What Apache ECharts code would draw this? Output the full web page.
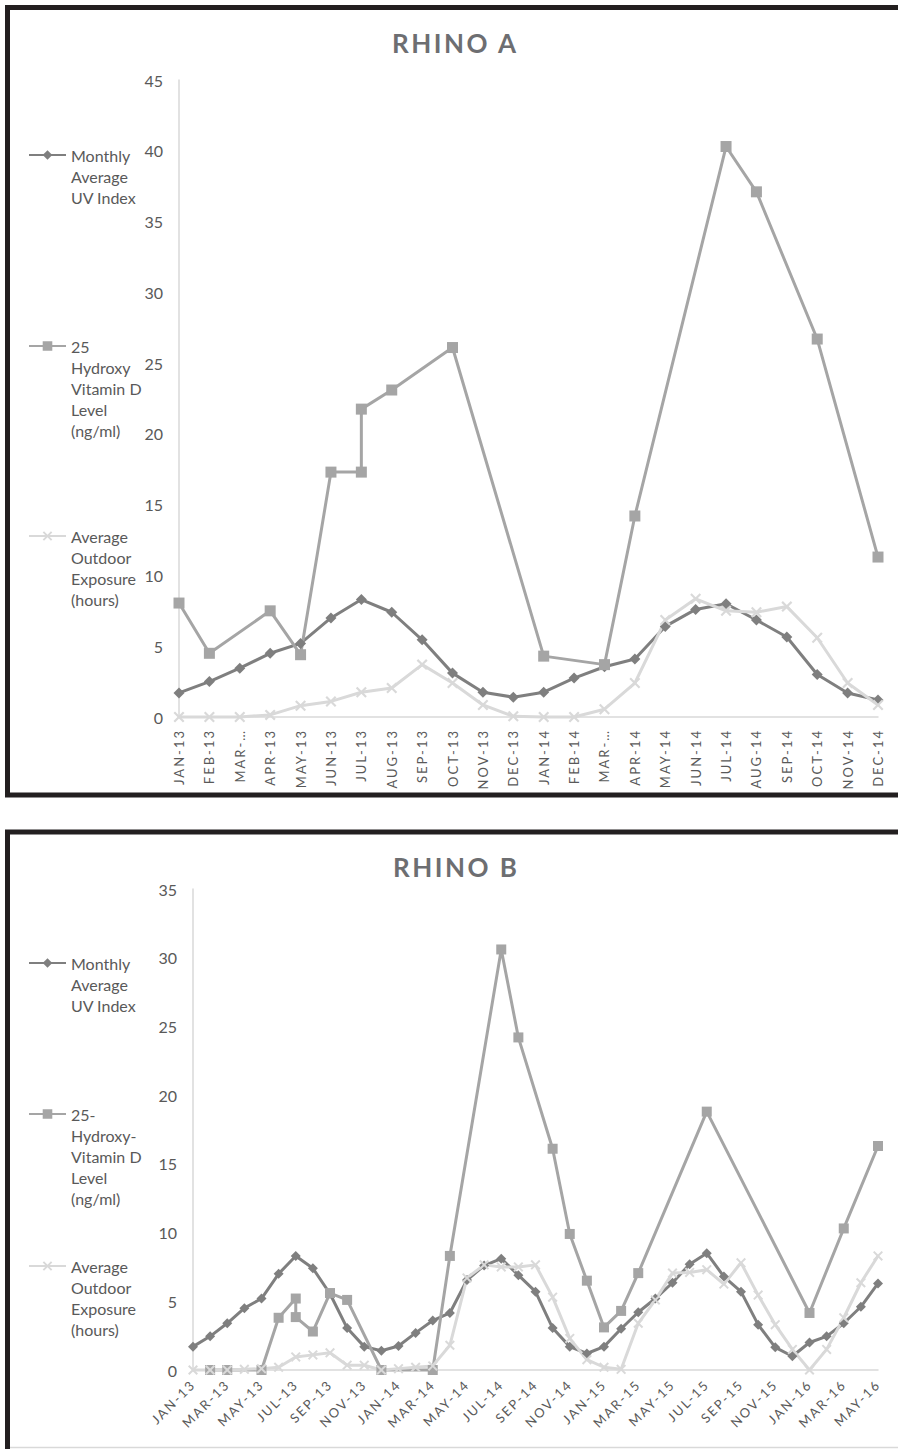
<!DOCTYPE html>
<html>
<head>
<meta charset="utf-8">
<title>Rhino A / Rhino B</title>
<script src="https://cdn.jsdelivr.net/npm/echarts@6/dist/echarts.min.js"></script>
<style>
  html, body { margin: 0; padding: 0; background: #fff; overflow: hidden; }
  #chart { width: 898px; height: 1449px; }
  /* spaced capitals on month labels and titles */
  #chart text[style*="13px"] { letter-spacing: 2px; }
  #chart text[style*="26px"] { letter-spacing: 2.5px; }
</style>
</head>
<body>
<div id="chart"></div>
<script>
// ---- data ---------------------------------------------------------------

var monthsB = ['JAN-13', 'FEB-13', 'MAR-13', 'APR-13', 'MAY-13', 'JUN-13', 'JUL-13', 'AUG-13', 'SEP-13', 'OCT-13', 'NOV-13', 'DEC-13',
    'JAN-14', 'FEB-14', 'MAR-14', 'APR-14', 'MAY-14', 'JUN-14', 'JUL-14', 'AUG-14', 'SEP-14', 'OCT-14', 'NOV-14', 'DEC-14',
    'JAN-15', 'FEB-15', 'MAR-15', 'APR-15', 'MAY-15', 'JUN-15', 'JUL-15', 'AUG-15', 'SEP-15', 'OCT-15', 'NOV-15', 'DEC-15',
    'JAN-16', 'FEB-16', 'MAR-16', 'APR-16', 'MAY-16'];
var monthsA = monthsB.slice(0, 24);

// tick labels as printed (March is truncated on the Rhino A axis)
var tickLabelsA = ['JAN-13', 'FEB-13', 'MAR-…', 'APR-13', 'MAY-13', 'JUN-13', 'JUL-13', 'AUG-13', 'SEP-13', 'OCT-13', 'NOV-13', 'DEC-13',
    'JAN-14', 'FEB-14', 'MAR-…', 'APR-14', 'MAY-14', 'JUN-14', 'JUL-14', 'AUG-14', 'SEP-14', 'OCT-14', 'NOV-14', 'DEC-14'];

// Rhino A
var uvA = [1.7, 2.5, 3.45, 4.5, 5.2, 7.0, 8.3, 7.4, 5.45, 3.1, 1.75, 1.4,
    1.75, 2.75, 3.55, 4.1, 6.4, 7.6, 8.0, 6.85, 5.65, 3.0, 1.7, 1.2];
var exposureA = [0, 0, 0, 0.15, 0.8, 1.1, 1.75, 2.05, 3.7, 2.4, 0.85, 0.05,
    0, 0, 0.55, 2.4, 6.85, 8.35, 7.5, 7.4, 7.8, 5.6, 2.4, 0.85];
var vitDMonthsA = ['JAN-13', 'FEB-13', 'APR-13', 'MAY-13', 'JUN-13', 'JUL-13', 'JUL-13', 'AUG-13', 'OCT-13',
    'JAN-14', 'MAR-14', 'APR-14', 'JUL-14', 'AUG-14', 'OCT-14', 'DEC-14'];
var vitDA = [8.05, 4.5, 7.5, 4.4, 17.3, 17.3, 21.75, 23.1, 26.1, 4.3, 3.7, 14.2, 40.3, 37.1, 26.7, 11.3];

// Rhino B
var uvB = [1.7, 2.45, 3.4, 4.5, 5.2, 7.0, 8.3, 7.4, 5.55, 3.05, 1.7, 1.4,
    1.75, 2.7, 3.6, 4.15, 6.55, 7.6, 8.1, 6.9, 5.7, 3.05, 1.7, 1.2,
    1.7, 3.0, 4.2, 5.2, 6.35, 7.7, 8.5, 6.8, 5.7, 3.3, 1.65, 1.0,
    2.0, 2.45, 3.4, 4.6, 6.3];
var exposureB = [0, 0, 0, 0.05, 0.1, 0.2, 0.95, 1.1, 1.25, 0.35, 0.35, 0,
    0.1, 0.2, 0.3, 1.8, 6.7, 7.65, 7.5, 7.5, 7.65, 5.3, 2.3, 0.75,
    0.2, 0.05, 3.4, 5.1, 7.05, 7.1, 7.3, 6.25, 7.8, 5.45, 3.3, 1.5,
    0, 1.5, 3.8, 6.35, 8.3];
var vitDMonthsB = ['FEB-13', 'MAR-13', 'MAY-13', 'JUN-13', 'JUL-13', 'JUL-13', 'AUG-13', 'SEP-13', 'OCT-13', 'DEC-13',
    'MAR-14', 'APR-14', 'JUL-14', 'AUG-14', 'OCT-14', 'NOV-14', 'DEC-14', 'JAN-15', 'FEB-15', 'MAR-15',
    'JUL-15', 'JAN-16', 'MAR-16', 'MAY-16'];
var vitDB = [0, 0, 0, 3.8, 5.2, 3.85, 2.8, 5.6, 5.1, 0,
    0, 8.3, 30.6, 24.2, 16.1, 9.9, 6.5, 3.1, 4.3, 7.05,
    18.8, 4.15, 10.3, 16.3];

var UV_NAME = 'Monthly Average UV Index';
var EXP_NAME = 'Average Outdoor Exposure (hours)';
var VITD_A_NAME = '25 Hydroxy Vitamin D Level (ng/ml)';
var VITD_B_NAME = '25-Hydroxy-Vitamin D Level (ng/ml)';

// ---- helpers ------------------------------------------------------------

var FONT = 'Lato, "Open Sans", sans-serif';
var TEXT_GRAY = '#595959';
var AXIS_GRAY = '#d9d9d9';
var LINE_H = 21;
var CROSS = 'path://M0,1.4L1.4,0L5,3.6L8.6,0L10,1.4L6.4,5L10,8.6L8.6,10L5,6.4L1.4,10L0,8.6L3.6,5Z';

function byMonth(allMonths, names, values) {
    return names.map(function (m, i) { return [allMonths.indexOf(m), values[i]]; });
}
function full(values) {
    return values.map(function (v, i) { return [i, v]; });
}

function lineSeries(name, idx, data, color, symbol, size) {
    return {
        name: name,
        type: 'line',
        xAxisIndex: idx,
        yAxisIndex: idx,
        data: data,
        symbol: symbol,
        symbolSize: size,
        clip: false,
        animation: false,
        lineStyle: { color: color, width: 3 },
        itemStyle: { color: color }
    };
}

// one legend per entry; blank lines on top keep the icon level with the
// first line of the wrapped text (the legend centres text on its icon)
function legendItem(name, text, centerY) {
    var lines = text.split('\n').length;
    var lead = new Array(lines).join('\n');
    return {
        data: [name],
        left: 28,
        top: centerY - (2 * lines - 1) * LINE_H / 2,
        padding: 0,
        itemWidth: 37,
        itemHeight: 12,
        selectedMode: false,
        formatter: function () { return lead + text; },
        textStyle: {
            fontFamily: FONT,
            fontSize: 16,
            color: TEXT_GRAY,
            lineHeight: LINE_H
        }
    };
}

function xAxisFor(idx, max, interval, labels, rotate, margin) {
    return {
        gridIndex: idx,
        type: 'value',
        min: 0,
        max: max,
        interval: interval,
        axisLine: { show: true, lineStyle: { color: AXIS_GRAY, width: 1.5 } },
        axisTick: { show: false },
        splitLine: { show: false },
        axisLabel: {
            rotate: rotate,
            margin: margin,
            fontFamily: FONT,
            fontSize: 13,
            color: TEXT_GRAY,
            formatter: function (v) { return labels[v]; }
        }
    };
}

function yAxisFor(idx, max) {
    return {
        gridIndex: idx,
        type: 'value',
        min: 0,
        max: max,
        interval: 5,
        axisLine: { show: true, lineStyle: { color: AXIS_GRAY, width: 1.5 } },
        axisTick: { show: false },
        splitLine: { show: false },
        axisLabel: { margin: 16, fontFamily: FONT, fontSize: 16, color: TEXT_GRAY }
    };
}

// ---- chart --------------------------------------------------------------

var chart = echarts.init(document.getElementById('chart'), null, { renderer: 'svg' });

var titleStyle = { fontFamily: FONT, fontSize: 26, fontWeight: 'bold', color: '#6d6e71', lineHeight: 26 };

chart.setOption({
    backgroundColor: '#fff',
    animation: false,
    title: [
        { text: 'RHINO A', left: 392, top: 30, padding: 0, textStyle: titleStyle },
        { text: 'RHINO B', left: 393, top: 854, padding: 0, textStyle: titleStyle }
    ],
    legend: [
        legendItem(UV_NAME, 'Monthly\nAverage\nUV Index', 155),
        legendItem(VITD_A_NAME, '25\nHydroxy\nVitamin D\nLevel\n(ng/ml)', 346),
        legendItem(EXP_NAME, 'Average\nOutdoor\nExposure\n(hours)', 536),
        legendItem(UV_NAME, 'Monthly\nAverage\nUV Index', 963),
        legendItem(VITD_B_NAME, '25-\nHydroxy-\nVitamin D\nLevel\n(ng/ml)', 1114),
        legendItem(EXP_NAME, 'Average\nOutdoor\nExposure\n(hours)', 1266)
    ],
    grid: [
        { left: 179, width: 699, top: 80, height: 637 },
        { left: 193, width: 685, top: 889, height: 481 }
    ],
    xAxis: [
        xAxisFor(0, 23, 1, tickLabelsA, 90, 12),
        xAxisFor(1, 40, 2, monthsB, 45, 12)
    ],
    yAxis: [yAxisFor(0, 45), yAxisFor(1, 35)],
    series: [
        lineSeries(UV_NAME, 0, full(uvA), '#7f7f7f', 'diamond', 11),
        lineSeries(VITD_A_NAME, 0, byMonth(monthsA, vitDMonthsA, vitDA), '#a5a5a5', 'rect', 11),
        lineSeries(EXP_NAME, 0, full(exposureA), AXIS_GRAY, CROSS, 11),
        lineSeries(UV_NAME, 1, full(uvB), '#7f7f7f', 'diamond', 10),
        lineSeries(VITD_B_NAME, 1, byMonth(monthsB, vitDMonthsB, vitDB), '#a5a5a5', 'rect', 10),
        lineSeries(EXP_NAME, 1, full(exposureB), AXIS_GRAY, CROSS, 10)
    ],
    graphic: [
        { type: 'rect', silent: true, shape: { x: 7.5, y: 7.5, width: 1000, height: 787.5 },
          style: { fill: null, stroke: '#231f20', lineWidth: 5 } },
        { type: 'rect', silent: true, shape: { x: 7.5, y: 832, width: 1000, height: 700 },
          style: { fill: null, stroke: '#231f20', lineWidth: 5 } },
        { type: 'line', silent: true, shape: { x1: 10, y1: 1447.5, x2: 898, y2: 1447.5 },
          style: { stroke: AXIS_GRAY, lineWidth: 1.5 } }
    ]
});
</script>
</body>
</html>
